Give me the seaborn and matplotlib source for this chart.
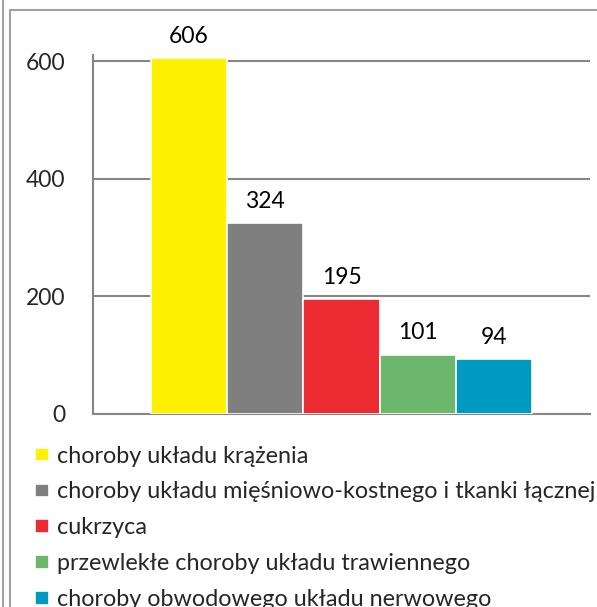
import matplotlib
matplotlib.use("Agg")
import matplotlib.pyplot as plt
from matplotlib.lines import Line2D
import seaborn as sns

categories = ["choroby układu krążenia",
              "choroby układu mięśniowo-kostnego i tkanki łącznej",
              "cukrzyca",
              "przewlekłe choroby układu trawiennego",
              "choroby obwodowego układu nerwowego"]
values = [606, 324, 195, 101, 94]
colors = ["#FFF100", "#7F7F7F", "#ED2B33", "#6BB76B", "#0099C0"]
y_ticks = [0, 200, 400, 600]

sns.set_style("white")
plt.rcParams["font.family"] = ["Lato", "DejaVu Sans"]

fig = plt.figure(figsize=(5.97, 6.07), dpi=100)
ax = fig.add_axes([93 / 597, 1 - 414 / 607, (590 - 93) / 597, (414 - 55.3) / 607])

sns.barplot(x=categories, y=values, hue=categories, palette=colors, width=1.0,
            edgecolor="white", linewidth=1.2, saturation=1, legend=True, ax=ax, zorder=3)

for c in ax.containers:
    ax.bar_label(c, fontsize=16.5, padding=8, color="black")

ax.set_xlim(-1.26, 5.26)
ax.set_ylim(0, 610)
ax.set_yticks(y_ticks)
ax.set_xticks([-1.26, 5.26])
ax.set_xticklabels(["", ""])
ax.set_xlabel("")
ax.set_ylabel("")
ax.yaxis.grid(True, color="#868686", linewidth=1.5, zorder=0)
ax.set_axisbelow(True)
for s in ["top", "right"]:
    ax.spines[s].set_visible(False)
for s in ["left", "bottom"]:
    ax.spines[s].set_color("#868686")
    ax.spines[s].set_linewidth(1.5)
ax.tick_params(axis="y", length=8, width=1.5, color="#868686", labelsize=16.5, pad=12)
ax.tick_params(axis="x", length=6, width=1.5, color="#868686", direction="out")

sns.move_legend(ax, "upper left", bbox_to_anchor=((35 - 93) / 497, -0.088),
                bbox_transform=ax.transAxes, frameon=False, fontsize=16.8,
                handlelength=0.6, handleheight=0.5, handletextpad=0.35,
                labelspacing=0.64, borderaxespad=0, borderpad=0)

# outer frame lines
fig.add_artist(Line2D([3 / 597, 3 / 597], [0, 1], color="#A0A0A0", linewidth=1.5))
fig.add_artist(Line2D([10 / 597, 10 / 597], [0, 1 - 10 / 607], color="#A0A0A0", linewidth=1.5))
fig.add_artist(Line2D([10 / 597, 1], [1 - 10 / 607, 1 - 10 / 607], color="#A0A0A0", linewidth=1.5))

fig.savefig("out.png", dpi=100)
